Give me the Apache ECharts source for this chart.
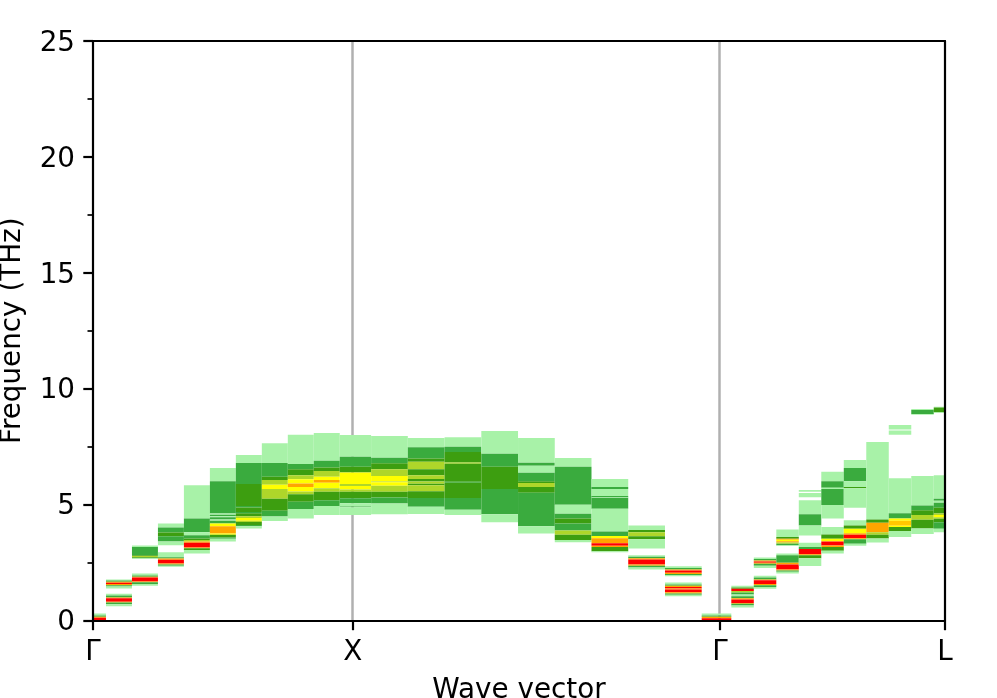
<!DOCTYPE html>
<html><head><meta charset="utf-8">
<style>html,body{margin:0;padding:0;background:#fff}#c{width:997px;height:698px}</style>
<script src="https://cdn.jsdelivr.net/npm/echarts@6/dist/echarts.min.js"></script>
</head><body><div id="c"></div>
<script>
// q-point positions along the path (Γ-X, X-Γ, Γ-L)
const qPoints = [0,0.1,0.2,0.3,0.4,0.5,0.6,0.7,0.8,0.9,1,
  1.1414,1.2828,1.4243,1.5657,1.7071,1.8485,1.9899,2.1314,2.2728,2.4142,
  2.5008,2.5874,2.6740,2.7606,2.8472,2.9338,3.0204,3.1070,3.1936,3.2802];
const tickValues = [0,1,2.4142,3.2802];
const tickLabels = ['Γ','X','Γ','L'];
const yTicks = [0,5,10,15,20,25];
const levelColors = {L:'#a8f2a8',M:'#3aab3e',D:'#3d9e10',Y:'#aed62a',y:'#ffff00',o:'#ffc800',O:'#ffa500',R:'#ff0000'};
// Per q-point: stacks running top to bottom: freq, level, freq, level, ... freq (THz)
const spectrum = [
 [[0.30,'L',0.22,'M',0.16,'O',0.115,'R',0]],
 [[1.77,'L',1.73,'M',1.67,'O',1.63,'R',1.57,'O',1.525,'M',1.47,'L',1.38],
  [1.15,'L',1.08,'M',0.99,'O',0.96,'R',0.81,'O',0.78,'M',0.705,'L',0.62]],
 [[3.24,'L',3.17,'M',2.82,'D',2.78,'Y',2.73,'D',2.69,'L',2.65],
  [2.03,'L',1.94,'M',1.885,'O',1.86,'R',1.68,'O',1.655,'M',1.58,'L',1.50]],
 [[4.19,'L',4.01,'M',3.80,'D',3.63,'M',3.41,'L',3.25],
  [2.94,'L',2.73,'M',2.68,'O',2.62,'R',2.46,'O',2.42,'M',2.36,'L',2.32]],
 [[5.84,'L',4.40,'M',3.81,'L',3.68,'M',3.54,'D',3.47,'Y',3.41,'O',3.35,'R',3.15,'O',3.12,'D',3.04,'L',2.89]],
 [[6.58,'L',6.01,'M',4.62,'L',4.56,'M',4.50,'L',4.45,'M',4.36,'L',4.30,'M',4.19,'y',4.07,'O',3.755,'y',3.70,'D',3.58,'M',3.53,'L',3.41]],
 [[7.14,'L',6.79,'M',5.885,'D',4.94,'M',4.88,'D',4.68,'M',4.63,'D',4.50,'Y',4.42,'y',4.30,'Y',4.245,'D',4.115,'M',4.07,'L',3.97]],
 [[7.65,'L',6.79,'M',6.20,'D',6.06,'Y',5.86,'y',5.67,'Y',5.25,'D',4.73,'M',4.49,'L',4.29]],
 [[8.01,'L',6.75,'M',6.52,'D',6.27,'Y',6.09,'y',5.91,'O',5.755,'y',5.57,'Y',5.45,'D',5.12,'M',4.81,'L',4.40]],
 [[8.09,'L',6.89,'M',6.60,'D',6.45,'Y',6.20,'y',6.06,'O',5.94,'y',5.70,'Y',5.55,'D',5.19,'M',4.94,'L',4.55]],
 [[8.00,'L',7.06,'M',6.63,'D',6.39,'y',5.885,'Y',5.80,'y',5.65,'Y',5.55,'D',5.27,'M',5.06,'L',4.92,'M',4.89,'L',4.55]],
 [[7.96,'L',7.02,'M',6.78,'D',6.53,'Y',6.23,'y',6.00,'Y',5.96,'y',5.81,'Y',5.55,'D',5.31,'M',5.05,'L',4.58]],
 [[7.87,'L',7.47,'M',6.99,'D',6.85,'Y',6.53,'D',6.27,'Y',6.10,'D',6.00,'Y',5.90,'D',5.84,'Y',5.58,'D',5.29,'M',4.91,'L',4.59]],
 [[7.91,'L',7.50,'M',7.27,'D',6.82,'Y',6.76,'D',5.99,'M',5.94,'D',5.28,'M',4.78,'L',4.55]],
 [[8.17,'L',7.19,'M',6.63,'D',5.67,'M',4.58,'L',4.24]],
 [[7.87,'L',6.81,'M',6.68,'L',6.37,'M',6.01,'D',5.93,'Y',5.76,'D',5.51,'M',4.07,'L',3.755]],
 [[7.01,'L',6.63,'M',4.99,'L',4.60,'M',4.40,'D',4.19,'M',3.88,'Y',3.70,'D',3.47,'L',3.38]],
 [[6.10,'L',5.76,'M',5.67,'L',5.37,'M',5.31,'L',5.28,'M',4.82,'L',3.84,'M',3.64,'y',3.55,'O',3.33,'R',3.22,'O',3.17,'D',2.99,'L',2.94]],
 [[4.10,'L',3.90,'D',3.81,'Y',3.63,'D',3.50,'L',3.11],
  [2.81,'L',2.75,'M',2.69,'O',2.63,'R',2.42,'O',2.36,'M',2.29,'L',2.20]],
 [[2.345,'L',2.26,'M',2.20,'O',2.16,'R',2.06,'O',2.01,'M',1.96,'L',1.91],
  [1.64,'L',1.555,'M',1.50,'O',1.45,'R',1.38,'O',1.34,'R',1.22,'O',1.165,'M',1.11,'L',1.05]],
 [[0.30,'L',0.22,'M',0.16,'O',0.10,'R',0]],
 [[1.50,'L',1.42,'D',1.37,'R',1.27,'Y',1.21,'M',1.12,'L',1.05,'M',0.96,'O',0.91,'R',0.76,'O',0.72,'M',0.65,'L',0.56]],
 [[2.72,'L',2.65,'M',2.59,'O',2.55,'R',2.49,'O',2.45,'M',2.36,'L',2.27],
  [1.93,'L',1.86,'M',1.77,'O',1.74,'R',1.57,'O',1.525,'M',1.44,'L',1.37]],
 [[3.93,'L',3.60,'D',3.53,'O',3.48,'y',3.42,'O',3.37,'Y',3.31,'M',3.25,'L',3.21],
  [2.89,'L',2.82,'M',2.49,'O',2.42,'R',2.20,'O',2.16,'M',2.10,'L',2.03]],
 [[5.63,'L',5.55],[5.50,'L',5.32],[5.19,'L',4.58,'M',4.10,'L',3.67],
  [3.35,'L',3.17,'M',3.08,'R',2.86,'O',2.81,'D',2.69,'L',2.35]],
 [[6.42,'L',6.01,'M',5.73,'L',5.67,'M',4.98,'L',4.40],
  [4.03,'L',3.71,'D',3.53,'y',3.41,'R',3.24,'O',3.17,'D',3.01,'L',2.89]],
 [[6.92,'L',6.58,'M',6.01,'L',5.76,'D',5.71,'L',4.86],
  [4.32,'L',4.10,'D',3.96,'y',3.76,'O',3.70,'R',3.55,'O',3.50,'M',3.31,'L',3.22]],
 [[7.70,'L',4.36,'D',4.22,'O',3.81,'Y',3.70,'D',3.54,'L',3.37]],
 [[8.43,'L',8.24],[8.20,'L',8.01],
  [6.14,'L',4.63,'M',4.40,'y',4.30,'o',4.09,'y',4.03,'D',3.86,'L',3.60]],
 [[9.12,'L',9.08,'M',8.91,'L',8.88],
  [6.23,'L',4.96,'M',4.76,'D',4.55,'Y',4.35,'D',3.97,'L',3.73]],
 [[9.22,'L',9.19,'D',8.98,'L',8.95],
  [6.27,'L',5.25,'M',5.17,'L',5.08,'M',4.86,'D',4.62,'Y',4.55,'y',4.45,'Y',4.39,'D',4.24,'M',3.96,'L',3.81]]
];

const levels = Object.keys(levelColors);
const cells = [];
spectrum.forEach((stacks, i) => stacks.forEach(s => {
  for (let k = 1; k < s.length; k += 2) {
    const left = i === 0 ? qPoints[0] : (qPoints[i-1] + qPoints[i]) / 2;
    const right = i === qPoints.length-1 ? qPoints[i] : (qPoints[i] + qPoints[i+1]) / 2;
    cells.push([left, right, s[k+1], s[k-1], levels.indexOf(s[k])]);
  }
}));

const FONT = 'DejaVu Sans';
const FS = 27.8;
const chart = echarts.init(document.getElementById('c'), null, {renderer:'canvas'});
const hiddenAxisParts = {axisTick:{show:false}, axisLabel:{show:false}, splitLine:{show:false}};
const frame = {show:true, onZero:false, lineStyle:{color:'#000', width:2.2}};
chart.setOption({
  animation:false,
  backgroundColor:'#fff',
  grid:{left:93, right:52, top:41, bottom:77.5, containLabel:false, outerBoundsMode:'none'},
  xAxis:[{
    type:'value', min:0, max:3.2802, position:'bottom', z:5,
    name:'Wave vector', nameLocation:'middle', nameGap:56,
    nameMoveOverlap:false,
    nameTextStyle:{fontFamily:FONT, fontSize:FS, color:'#000'},
    axisLine:frame,
    axisTick:{show:true, customValues:tickValues, length:9.7, lineStyle:{color:'#000', width:2.2}},
    axisLabel:{show:true, customValues:tickValues, margin:18, fontFamily:FONT, fontSize:FS, color:'#000',
      formatter:(v)=>{const i=tickValues.findIndex(t=>Math.abs(t-v)<1e-6);return i>=0?tickLabels[i]:'';},
      showMinLabel:true, showMaxLabel:true, hideOverlap:false},
    splitLine:{show:false}, minorTick:{show:false}
  },{
    type:'value', min:0, max:3.2802, position:'top', z:5, axisLine:frame, ...hiddenAxisParts
  }],
  yAxis:[{
    type:'value', min:yTicks[0], max:yTicks[yTicks.length-1], interval:5, position:'left', z:5,
    name:'Frequency (THz)', nameLocation:'middle', nameGap:66, nameRotate:90,
    nameMoveOverlap:false,
    nameTextStyle:{fontFamily:FONT, fontSize:FS, color:'#000'},
    axisLine:frame,
    axisTick:{show:true, length:9.7, lineStyle:{color:'#000', width:2.2}},
    minorTick:{show:true, splitNumber:2, length:5.5, lineStyle:{color:'#000', width:1.7}},
    axisLabel:{margin:18, fontFamily:FONT, fontSize:FS, color:'#000',
      formatter:(v)=>'{t|'+v+'}',
      rich:{t:{padding:[5,0,0,0], fontFamily:FONT, fontSize:FS, color:'#000'}}},
    splitLine:{show:false}
  },{
    type:'value', min:yTicks[0], max:yTicks[yTicks.length-1], position:'right', z:5, axisLine:frame, ...hiddenAxisParts
  }],
  series:[{
    type:'custom', coordinateSystem:'cartesian2d', z:2, silent:true, clip:true,
    encode:{x:[0,1], y:[2,3]},
    data:cells,
    renderItem:(params, api)=>{
      const a = api.coord([api.value(0), api.value(3)]);
      const b = api.coord([api.value(1), api.value(2)]);
      return {type:'rect', shape:{x:a[0], y:a[1], width:b[0]-a[0], height:b[1]-a[1]},
        style:{fill:levelColors[levels[api.value(4)]]}};
    },
    markLine:{silent:true, symbol:'none', z:1, animation:false, label:{show:false},
      lineStyle:{color:'#b0b0b0', width:2.5, type:'solid'},
      data:[{xAxis:tickValues[1]},{xAxis:tickValues[2]}]}
  }]
});
</script></body></html>
